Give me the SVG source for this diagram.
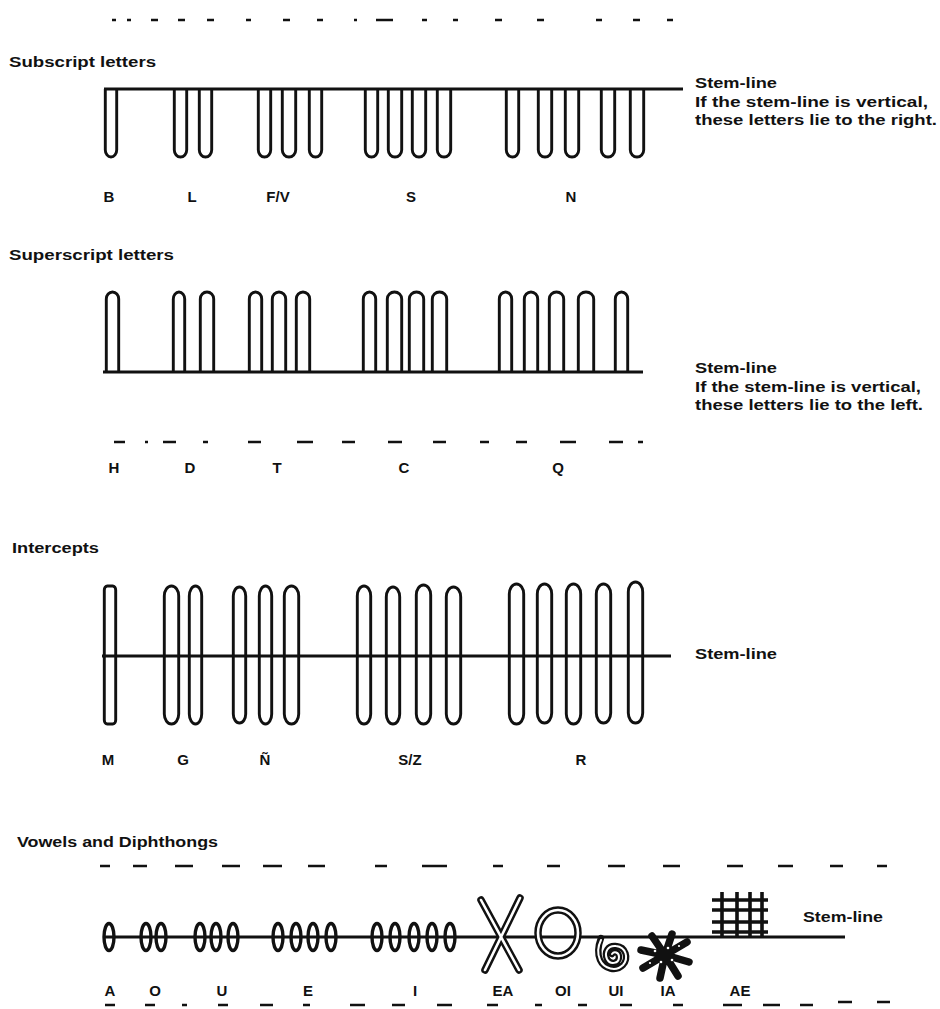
<svg xmlns="http://www.w3.org/2000/svg" width="940" height="1009" viewBox="0 0 940 1009">
<style>
  .bg{fill:#ffffff}
  .stem{stroke:#111;stroke-width:2.8;fill:none;stroke-linecap:butt}
  .loop{stroke:#111;stroke-width:2.9;fill:none}
  .oval{stroke:#111;stroke-width:3.4;fill:none}
  .dash{stroke:#111;stroke-width:2.4;fill:none}
  .blk{stroke:#111;fill:none;stroke-linecap:round;stroke-linejoin:round}
  .wht{stroke:#fff;fill:none;stroke-linecap:round;stroke-linejoin:round}
  .grid{stroke:#111;stroke-width:3.6;fill:none}
  text{font-family:"Liberation Sans",Arial,sans-serif;font-weight:bold;fill:#111}
  .head{font-size:14px}
  .note{font-size:15px}
  .lab{font-size:15px;text-anchor:middle}
</style>
<rect class="bg" x="0" y="0" width="940" height="1009"/>

<!-- Top dashed line -->
<g id="top-dashes" class="dash">
  <path d="M112 20H116 M127 20H131 M151 20H158 M178 20H185 M207 20H214 M246 20H251 M283 20H290 M317 20H323 M354 20H357 M376 20H393 M422 20H427 M453 20H458 M495 20H502 M537 20H544 M596 20H602 M633 20H640 M667 20H673"/>
</g>

<!-- Subscript section -->
<g id="subscript">
  <text class="head" x="9" y="67" textLength="147" lengthAdjust="spacingAndGlyphs">Subscript letters</text>
  <g id="sub-loops" class="loop">
    <path d="M105.3 89 V150 A5.7 7 0 0 0 116.7 150 V89"/>
    <path d="M174.3 89 V150 A6.2 7 0 0 0 186.7 150 V89"/>
    <path d="M199.3 89 V150 A6.2 7 0 0 0 211.7 150 V89"/>
    <path d="M258.3 89 V150 A6.2 7 0 0 0 270.7 150 V89"/>
    <path d="M282.3 89 V150 A6.7 7 0 0 0 295.7 150 V89"/>
    <path d="M309.3 89 V150 A6.2 7 0 0 0 321.7 150 V89"/>
    <path d="M365.3 89 V150 A6.2 7 0 0 0 377.7 150 V89"/>
    <path d="M388.3 89 V150 A6.7 7 0 0 0 401.7 150 V89"/>
    <path d="M412.3 89 V150 A6.7 7 0 0 0 425.7 150 V89"/>
    <path d="M437.3 89 V150 A6.7 7 0 0 0 450.7 150 V89"/>
    <path d="M506.3 89 V150 A6.2 7 0 0 0 518.7 150 V89"/>
    <path d="M538.3 89 V150 A6.7 7 0 0 0 551.7 150 V89"/>
    <path d="M565.3 89 V150 A6.7 7 0 0 0 578.7 150 V89"/>
    <path d="M601.3 89 V150 A6.7 7 0 0 0 614.7 150 V89"/>
    <path d="M630.3 89 V150 A6.7 7 0 0 0 643.7 150 V89"/>
  </g>
  <line class="stem" x1="104" y1="89" x2="683" y2="89"/>
  <text class="note" x="695" y="88" textLength="82" lengthAdjust="spacingAndGlyphs">Stem-line</text>
  <text class="note" x="695" y="107" textLength="233" lengthAdjust="spacingAndGlyphs">If the stem-line is vertical,</text>
  <text class="note" x="695" y="125" textLength="242" lengthAdjust="spacingAndGlyphs">these letters lie to the right.</text>
  <text class="lab" x="109" y="202">B</text>
  <text class="lab" x="192" y="202">L</text>
  <text class="lab" x="278" y="202">F/V</text>
  <text class="lab" x="411" y="202">S</text>
  <text class="lab" x="571" y="202">N</text>
</g>

<!-- Superscript section -->
<g id="superscript">
  <text class="head" x="9" y="260" textLength="165" lengthAdjust="spacingAndGlyphs">Superscript letters</text>
  <g id="sup-loops" class="loop">
    <path d="M106.3 372 V299 A6.2 7 0 0 1 118.7 299 V372"/>
    <path d="M173.3 372 V299 A5.7 7 0 0 1 184.7 299 V372"/>
    <path d="M200.3 372 V299 A6.7 7 0 0 1 213.7 299 V372"/>
    <path d="M249.3 372 V299 A6.2 7 0 0 1 261.7 299 V372"/>
    <path d="M272.3 372 V299 A6.7 7 0 0 1 285.7 299 V372"/>
    <path d="M296.3 372 V299 A6.7 7 0 0 1 309.7 299 V372"/>
    <path d="M363.3 372 V299 A6.2 7 0 0 1 375.7 299 V372"/>
    <path d="M387.3 372 V299 A7.2 7 0 0 1 401.7 299 V372"/>
    <path d="M409.3 372 V299 A7.2 7 0 0 1 423.7 299 V372"/>
    <path d="M432.3 372 V299 A7.2 7 0 0 1 446.7 299 V372"/>
    <path d="M499.3 372 V299 A6.2 7 0 0 1 511.7 299 V372"/>
    <path d="M524.3 372 V299 A6.7 7 0 0 1 537.7 299 V372"/>
    <path d="M549.3 372 V299 A7.2 7 0 0 1 563.7 299 V372"/>
    <path d="M578.3 372 V299 A7.7 7 0 0 1 593.7 299 V372"/>
    <path d="M615.3 372 V299 A6.2 7 0 0 1 627.7 299 V372"/>
  </g>
  <line class="stem" x1="103" y1="372" x2="643" y2="372"/>
  <text class="note" x="695" y="373" textLength="82" lengthAdjust="spacingAndGlyphs">Stem-line</text>
  <text class="note" x="695" y="392" textLength="226" lengthAdjust="spacingAndGlyphs">If the stem-line is vertical,</text>
  <text class="note" x="695" y="410" textLength="228" lengthAdjust="spacingAndGlyphs">these letters lie to the left.</text>
  <g id="sup-dashes" class="dash">
    <path d="M114 442H125 M145 442H148 M163 442H176 M203 442H208 M248 442H261 M297 442H313 M342 442H355 M388 442H402 M433 442H446 M480 442H489 M516 442H527 M560 442H576 M609 442H623 M638 442H643"/>
  </g>
  <text class="lab" x="114" y="473">H</text>
  <text class="lab" x="190" y="473">D</text>
  <text class="lab" x="277" y="473">T</text>
  <text class="lab" x="404" y="473">C</text>
  <text class="lab" x="558" y="473">Q</text>
</g>

<!-- Intercepts section -->
<g id="intercepts">
  <text class="head" x="12" y="553" textLength="87" lengthAdjust="spacingAndGlyphs">Intercepts</text>
  <g id="int-loops" class="loop">
    <rect x="104.3" y="586" width="11.4" height="138" rx="3" ry="4"/>
    <rect x="164.3" y="586" width="14.4" height="138" rx="7.2" ry="10"/>
    <rect x="189.3" y="586" width="12.4" height="138" rx="6.2" ry="10"/>
    <rect x="233.3" y="587" width="12.4" height="136" rx="6.2" ry="9"/>
    <rect x="259.3" y="586" width="12.4" height="138" rx="6.2" ry="10"/>
    <rect x="284.3" y="586" width="14.4" height="138" rx="7.2" ry="10"/>
    <rect x="357.3" y="586" width="13.4" height="138" rx="6.7" ry="10"/>
    <rect x="386.3" y="587" width="13.4" height="137" rx="6.7" ry="10"/>
    <rect x="416.3" y="585" width="14.4" height="139" rx="7.2" ry="10"/>
    <rect x="446.3" y="587" width="14.4" height="137" rx="7.2" ry="10"/>
    <rect x="509.3" y="584" width="14.4" height="140" rx="7.2" ry="10"/>
    <rect x="537.3" y="584" width="14.4" height="139" rx="7.2" ry="10"/>
    <rect x="566.3" y="584" width="14.4" height="140" rx="7.2" ry="10"/>
    <rect x="596.3" y="584" width="14.4" height="139" rx="7.2" ry="10"/>
    <rect x="628.3" y="582" width="14.4" height="141" rx="7.2" ry="10"/>
  </g>
  <line class="stem" x1="102" y1="656" x2="671" y2="656"/>
  <text class="note" x="695" y="659" textLength="82" lengthAdjust="spacingAndGlyphs">Stem-line</text>
  <text class="lab" x="108" y="765">M</text>
  <text class="lab" x="183" y="765">G</text>
  <text class="lab" x="265" y="765">Ñ</text>
  <text class="lab" x="410" y="765">S/Z</text>
  <text class="lab" x="581" y="765">R</text>
</g>

<!-- Vowels and Diphthongs section -->
<g id="vowels">
  <text class="head" x="17" y="847" textLength="201" lengthAdjust="spacingAndGlyphs">Vowels and Diphthongs</text>
  <g id="vow-top-dashes" class="dash">
    <path d="M100 866H110 M133 866H147 M175 866H193 M222 866H240 M263 866H282 M308 866H325 M375 866H387 M422 866H447 M493 866H503 M547 866H560 M608 866H625 M663 866H680 M727 866H743 M778 866H793 M830 866H843 M877 866H887"/>
  </g>
  <line class="stem" x1="103" y1="937" x2="845" y2="937"/>
  <g id="vow-ovals" class="oval">
    <ellipse cx="109" cy="937" rx="5" ry="13.5"/>
    <ellipse cx="146" cy="937" rx="5" ry="13.5"/>
    <ellipse cx="161" cy="937" rx="5" ry="13.5"/>
    <ellipse cx="200" cy="937" rx="5" ry="13.5"/>
    <ellipse cx="216" cy="937" rx="5" ry="13.5"/>
    <ellipse cx="233" cy="937" rx="5" ry="13.5"/>
    <ellipse cx="278" cy="937" rx="5" ry="13.5"/>
    <ellipse cx="296" cy="937" rx="5" ry="13.5"/>
    <ellipse cx="313" cy="937" rx="5" ry="13.5"/>
    <ellipse cx="331" cy="937" rx="5" ry="13.5"/>
    <ellipse cx="377" cy="937" rx="5" ry="13.5"/>
    <ellipse cx="395" cy="937" rx="5" ry="13.5"/>
    <ellipse cx="414" cy="937" rx="5" ry="13.5"/>
    <ellipse cx="432" cy="937" rx="5" ry="13.5"/>
    <ellipse cx="450" cy="937" rx="5" ry="13.5"/>
  </g>
  <g id="EA">
    <path class="blk" stroke-width="7.5" d="M481 900 L519 970 M520 898 L485 970"/>
    <path class="wht" stroke-width="2.6" d="M481 900 L519 970 M520 898 L485 970"/>
  </g>
  <g id="OI">
    <ellipse class="blk" stroke-width="7.5" cx="558" cy="933" rx="20" ry="23"/>
    <ellipse class="wht" stroke-width="2.6" cx="558" cy="933" rx="20" ry="23"/>
  </g>
  <g id="UI">
    <path class="blk" stroke-width="6.5" d="M601 938 C598 946 597 953 600 960 C604 969 616 972 623 965 C629 958 626 947 616 946 C608 945 604 952 607 959 C610 965 619 964 619 957 C619 952 614 951 612 954"/>
    <path class="wht" stroke-width="2" d="M601 940 C598 946 597 953 600 960 C604 969 616 972 623 965 C629 958 626 947 616 946 C608 945 604 952 607 959 C610 965 619 964 619 957 C619 952 614 951 612 954"/>
  </g>
  <g id="IA">
    <path class="blk" stroke-width="7.5" d="M665 955 L641 950 M665 955 L652 936 M665 955 L672 934 M665 955 L687 942 M665 955 L689 962 M665 955 L678 976 M665 955 L660 978 M665 955 L643 968"/>
    <g fill="#fff">
      <circle cx="655" cy="951" r="1.3"/>
      <circle cx="668" cy="948" r="1.3"/>
      <circle cx="661" cy="962" r="1.3"/>
      <circle cx="672" cy="960" r="1.3"/>
      <circle cx="650" cy="963" r="1.1"/>
      <circle cx="679" cy="946" r="1.1"/>
    </g>
  </g>
  <g id="AE" class="grid">
    <path d="M722 892 V937 M737 892 V937 M750 892 V937 M762 892 V937"/>
    <path d="M712 900 H768 M712 910 H768 M712 922 H768 M712 932 H768"/>
  </g>
  <text class="note" x="803" y="922" textLength="80" lengthAdjust="spacingAndGlyphs">Stem-line</text>
  <text class="lab" x="110" y="996">A</text>
  <text class="lab" x="155" y="996">O</text>
  <text class="lab" x="222" y="996">U</text>
  <text class="lab" x="308" y="996">E</text>
  <text class="lab" x="415" y="996">I</text>
  <text class="lab" x="503" y="996">EA</text>
  <text class="lab" x="563" y="996">OI</text>
  <text class="lab" x="616" y="996">UI</text>
  <text class="lab" x="668" y="996">IA</text>
  <text class="lab" x="740" y="996">AE</text>
  <g id="vow-bottom-dashes" class="dash">
    <path d="M105 1005H115 M145 1005H155 M182 1005H187 M218 1005H228 M260 1005H273 M303 1005H310 M350 1005H365 M392 1005H405 M437 1005H452 M487 1005H498 M535 1005H542 M578 1005H587 M620 1005H632 M673 1005H683 M723 1005H742 M763 1005H780 M800 1005H813 M838 1002H852 M877 1002H890"/>
  </g>
</g>
</svg>
